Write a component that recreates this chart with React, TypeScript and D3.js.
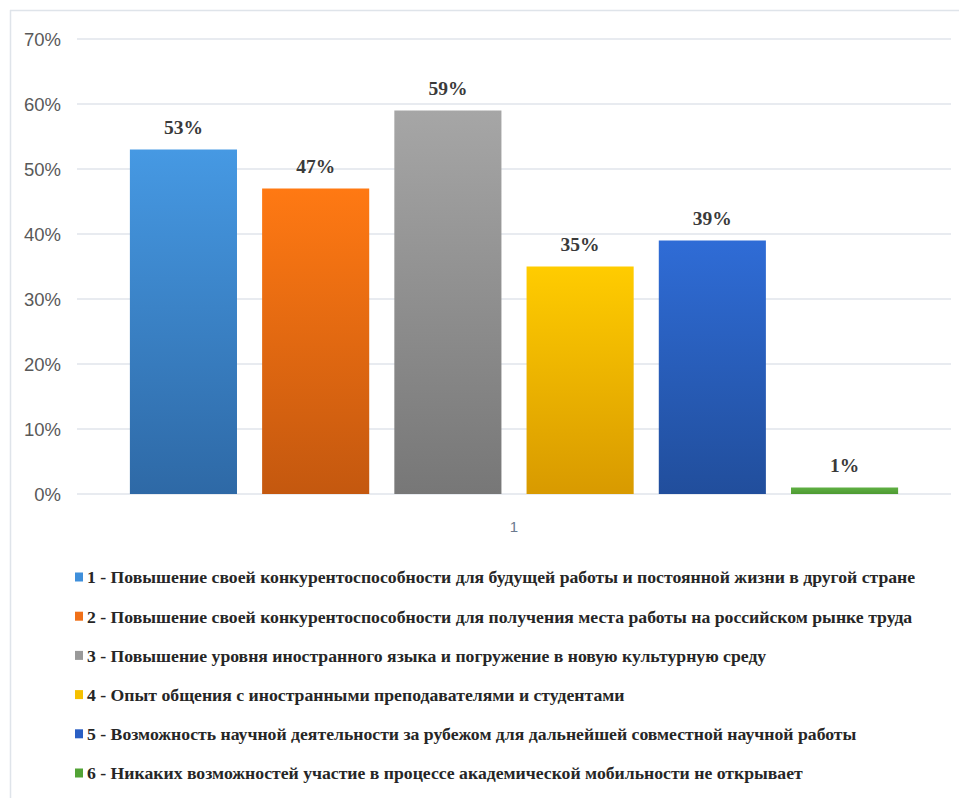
import React from "react";
import * as d3 from "d3";

const categories = ["1"];
const seriesLabels = [
  "1 - Повышение своей конкурентоспособности для будущей работы и постоянной жизни в другой стране",
  "2 - Повышение своей конкурентоспособности для получения места работы на российском рынке труда",
  "3 - Повышение уровня иностранного языка и погружение в новую культурную среду",
  "4 - Опыт общения с иностранными преподавателями и студентами",
  "5 - Возможность научной деятельности за рубежом для дальнейшей совместной научной работы",
  "6 - Никаких возможностей участие в процессе академической мобильности не открывает",
];
const values = [0.53, 0.47, 0.59, 0.35, 0.39, 0.01];
const yTicks = [0, 0.1, 0.2, 0.3, 0.4, 0.5, 0.6, 0.7];
const colorsTop = ["#4699e3", "#ff7913", "#a6a6a6", "#ffcc00", "#2f6cd6", "#5fb043"];
const colorsBottom = ["#2e69a6", "#c4580f", "#777777", "#d89a00", "#214e9c", "#4e9a32"];
const legendColors = ["#3f8fdb", "#f07018", "#999999", "#f5c000", "#2a5fc4", "#52a336"];

const W = 959;
const H = 798;
const plotLeft = 77;
const plotRight = 951;
const plotTop = 39;
const plotBottom = 494;

export default function App() {
  const y = d3.scaleLinear().domain([0, 0.7]).range([plotBottom, plotTop]);
  const x0 = d3.scaleBand<string>().domain(categories).range([plotLeft, plotRight]).padding(0);
  const x1 = d3
    .scaleBand<number>()
    .domain(d3.range(values.length))
    .range([x0("1")!, x0("1")! + x0.bandwidth()])
    .paddingInner(0.19)
    .paddingOuter(0.4);
  const pct = d3.format(".0%");

  return (
    <div style={{ position: "fixed", left: 0, top: 0 }}>
      <svg width={W} height={H} style={{ display: "block", background: "#fff" }}>
        <defs>
          {values.map((_, i) => (
            <linearGradient key={i} id={`g${i}`} x1="0" y1="0" x2="0" y2="1">
              <stop offset="0%" stopColor={colorsTop[i]} />
              <stop offset="100%" stopColor={colorsBottom[i]} />
            </linearGradient>
          ))}
        </defs>
        {/* frame */}
        <line x1={10} y1={10.5} x2={W} y2={10.5} stroke="#dfe4ea" strokeWidth={1.5} />
        <line x1={10.5} y1={10} x2={10.5} y2={H} stroke="#dfe4ea" strokeWidth={1.5} />
        {/* grid */}
        {yTicks.map((t) => (
          <g key={t}>
            <line
              x1={plotLeft}
              x2={plotRight}
              y1={y(t)}
              y2={y(t)}
              stroke="#e1e5eb"
              strokeWidth={1.6}
            />
            <text
              x={61}
              y={y(t)}
              dy="0.36em"
              textAnchor="end"
              fontFamily="Liberation Sans, Arial, sans-serif"
              fontSize={18.5}
              fill="#595959"
            >
              {pct(t)}
            </text>
          </g>
        ))}
        {/* bars */}
        {values.map((v, i) => (
          <g key={i}>
            <rect
              x={x1(i)}
              y={y(v)}
              width={x1.bandwidth()}
              height={plotBottom - y(v)}
              fill={`url(#g${i})`}
            />
            <text
              x={x1(i)! + x1.bandwidth() / 2}
              y={y(v) - 16}
              textAnchor="middle"
              fontFamily="Liberation Serif, DejaVu Serif, serif"
              fontWeight="bold"
              fontSize={19.5}
              fill="#3a3a3a"
            >
              {pct(v)}
            </text>
          </g>
        ))}
        {/* category label */}
        <text
          x={x0("1")! + x0.bandwidth() / 2}
          y={532}
          textAnchor="middle"
          fontFamily="Liberation Sans, Arial, sans-serif"
          fontSize={15}
          fill="#6b7a8f"
        >
          {categories[0]}
        </text>
        {/* legend */}
        {seriesLabels.map((s, i) => {
          const cy = 577 + i * 39.2;
          return (
            <g key={i}>
              <rect x={75} y={cy - 4.5} width={8} height={9} fill={legendColors[i]} />
              <text
                x={87}
                y={cy}
                dy="0.36em"
                fontFamily="Liberation Serif, DejaVu Serif, serif"
                fontWeight="bold"
                fontSize={17.7}
                fill="#262626"
              >
                {s}
              </text>
            </g>
          );
        })}
      </svg>
    </div>
  );
}
